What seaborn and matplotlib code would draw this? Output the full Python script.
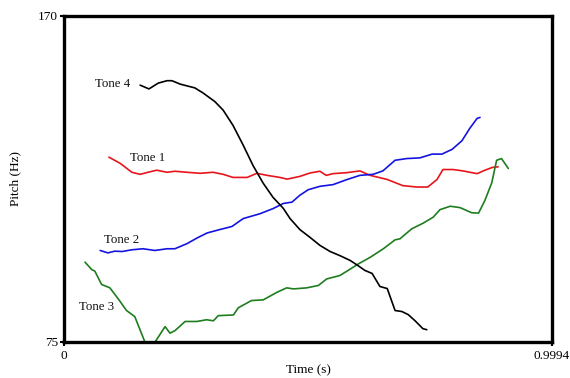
import matplotlib
matplotlib.use("Agg")
import matplotlib.pyplot as plt
import seaborn as sns
import pandas as pd

# Pitch contours of the four Mandarin tones (time in s, pitch in Hz)
tone1_t = [0.092, 0.115, 0.139, 0.156, 0.172, 0.190, 0.211, 0.227, 0.252, 0.279,
           0.305, 0.326, 0.346, 0.375, 0.395, 0.416, 0.442, 0.457, 0.483, 0.504,
           0.524, 0.537, 0.551, 0.580, 0.606, 0.627, 0.662, 0.694, 0.723, 0.745,
           0.764, 0.776, 0.797, 0.817, 0.846, 0.862, 0.877, 0.889]
tone1_f = [128.8, 127.0, 124.4, 123.8, 124.4, 125.0, 124.4, 124.7, 124.4, 124.1,
           124.4, 123.8, 122.9, 122.9, 124.1, 123.5, 122.9, 122.4, 123.2, 124.2,
           124.7, 123.5, 124.0, 124.3, 124.8, 123.5, 122.3, 120.5, 120.1, 120.1,
           122.3, 125.2, 125.2, 124.8, 124.0, 125.0, 125.8, 126.0]

tone2_t = [0.074, 0.090, 0.104, 0.119, 0.139, 0.162, 0.186, 0.211, 0.227, 0.252,
           0.272, 0.293, 0.319, 0.344, 0.367, 0.401, 0.428, 0.449, 0.467, 0.483,
           0.500, 0.524, 0.551, 0.580, 0.606, 0.633, 0.653, 0.678, 0.702, 0.729,
           0.754, 0.774, 0.795, 0.815, 0.831, 0.846, 0.852]
tone2_f = [101.6, 100.9, 101.4, 101.3, 101.8, 102.1, 101.6, 102.1, 102.1, 103.6,
           105.2, 106.7, 107.7, 108.6, 110.9, 112.3, 113.8, 115.3, 115.7, 117.7,
           119.3, 120.3, 120.8, 122.3, 123.5, 123.8, 124.8, 127.9, 128.4, 128.6,
           129.7, 129.7, 131.1, 133.6, 137.2, 140.1, 140.4]

tone3_t = [0.043, 0.057, 0.063, 0.077, 0.094, 0.111, 0.128, 0.145, 0.166, 0.186,
           0.207, 0.217, 0.227, 0.248, 0.272, 0.292, 0.306, 0.316, 0.347, 0.357,
           0.384, 0.408, 0.436, 0.456, 0.470, 0.497, 0.521, 0.538, 0.565, 0.582,
           0.603, 0.627, 0.654, 0.678, 0.688, 0.712, 0.736, 0.756, 0.770, 0.791,
           0.811, 0.835, 0.849, 0.862, 0.876, 0.886, 0.896, 0.910]
tone3_f = [98.2, 96.0, 95.6, 91.7, 90.7, 87.5, 84.1, 82.3, 74.8, 74.8,
           79.4, 77.5, 78.2, 80.9, 80.9, 81.4, 81.1, 82.6, 82.8, 84.9,
           87.0, 87.2, 89.4, 90.7, 90.4, 90.7, 91.4, 93.3, 94.3, 95.8,
           97.7, 99.6, 102.1, 104.7, 105.0, 107.9, 109.6, 111.3, 113.5, 114.5,
           114.1, 112.6, 112.5, 116.2, 121.3, 127.9, 128.4, 125.5]

tone4_t = [0.156, 0.174, 0.193, 0.211, 0.221, 0.238, 0.268, 0.285, 0.309, 0.326,
           0.346, 0.367, 0.387, 0.408, 0.428, 0.449, 0.463, 0.483, 0.504, 0.524,
           0.545, 0.565, 0.586, 0.602, 0.616, 0.631, 0.647, 0.662, 0.678, 0.692,
           0.705, 0.719, 0.735, 0.743]
tone4_f = [149.8, 148.7, 150.4, 151.1, 151.1, 150.1, 149.0, 147.5, 145.0, 142.5,
           138.1, 132.3, 126.4, 121.2, 117.1, 113.9, 110.9, 107.7, 105.4, 103.1,
           101.3, 100.1, 98.7, 97.2, 95.8, 94.9, 91.1, 90.5, 84.1, 83.8,
           82.9, 81.1, 78.8, 78.5]

tone_names = ["Tone 1", "Tone 2", "Tone 3", "Tone 4"]
tone_colors = ["#e8141c", "#1414e0", "#1e7d1e", "#000000"]
label_t = [0.135, 0.082, 0.031, 0.063]
label_f = [128.5, 104.8, 85.0, 150.1]

x_ticks = [0, 0.9994]
x_tick_labels = ["0", "0.9994"]
y_ticks = [75, 170]

sns.set_theme(style="white")
plt.rcParams["font.family"] = ["Liberation Serif", "DejaVu Serif"]

fig = plt.figure(figsize=(5.7, 3.78), dpi=100)
ax = fig.add_axes([0.1123, 0.096, 0.8561, 0.862])

series = [(tone1_t, tone1_f), (tone2_t, tone2_f), (tone3_t, tone3_f), (tone4_t, tone4_f)]
for (t, f), name, color in zip(series, tone_names, tone_colors):
    df = pd.DataFrame({"t": t, "f": f})
    sns.lineplot(data=df, x="t", y="f", sort=False, estimator=None,
                 color=color, linewidth=1.2, ax=ax)

for name, tx, fy in zip(tone_names, label_t, label_f):
    ax.text(tx, fy, name, fontsize=9.3, ha="left", va="center", color="#111111")

ax.set_xlim(0, 0.9994)
ax.set_ylim(75, 170)
ax.set_xticks(x_ticks)
ax.set_xticklabels(x_tick_labels)
ax.set_yticks(y_ticks)
ax.tick_params(axis="both", which="major", length=3, width=1.5, direction="out",
               labelsize=9.5, colors="black", pad=1.5, left=True, bottom=True)
ax.tick_params(axis="x", pad=3)
ax.set_xlabel("Time (s)", fontsize=9.5, labelpad=1.5)
ax.set_ylabel("Pitch (Hz)", fontsize=9.5, labelpad=12)
ax.xaxis.label.set_color("black")
ax.yaxis.label.set_color("black")

for side in ["left", "right", "top", "bottom"]:
    ax.spines[side].set_visible(True)
    ax.spines[side].set_color("black")
    ax.spines[side].set_linewidth(2.4)

fig.savefig("out.png", dpi=100, facecolor="white")
